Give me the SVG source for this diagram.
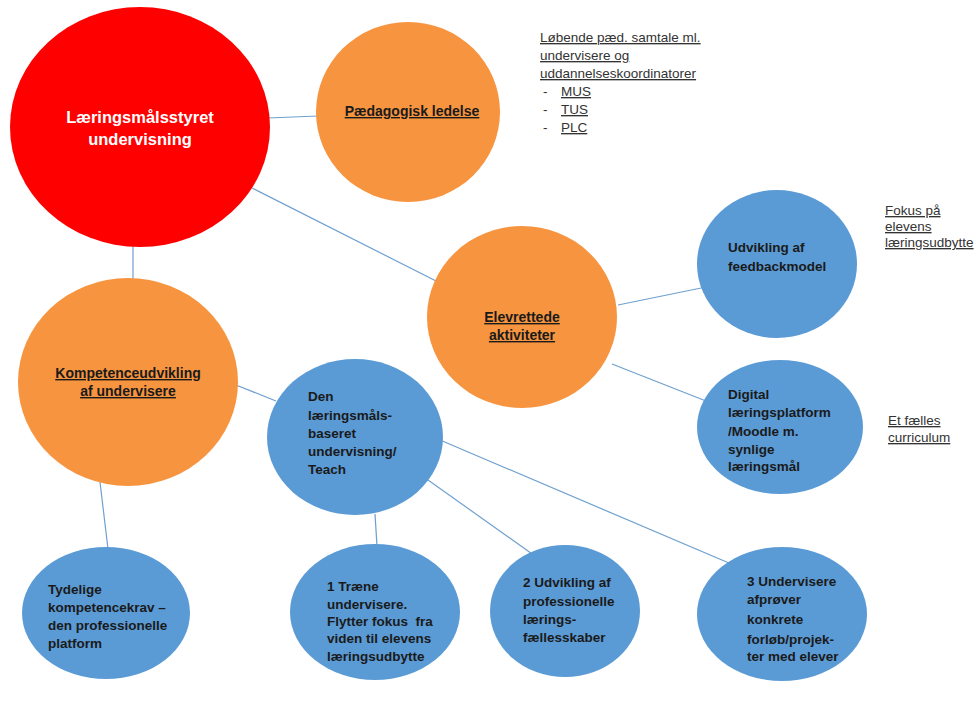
<svg xmlns="http://www.w3.org/2000/svg" width="978" height="702" viewBox="0 0 978 702">
<style>
.blue{fill:#5b9bd5}
.org{fill:#f7943f}
.t{font-family:"Liberation Sans",Arial,sans-serif;font-weight:bold;font-size:13.5px;fill:#1a1a1a;white-space:pre}
.o{font-size:14px}
.c{text-anchor:middle}
.u{text-decoration:underline}
.n{font-family:"Liberation Sans",Arial,sans-serif;font-size:13.5px;fill:#333}
.w{font-family:"Liberation Sans",Arial,sans-serif;font-weight:bold;font-size:16.5px;fill:#fff;text-anchor:middle}
.lines line{stroke:#6fa0cf;stroke-width:1.2}
</style>
<rect width="978" height="702" fill="#fff"/>
<g class="lines" id="connectors">
<line x1="268" y1="118" x2="318" y2="116"/>
<line x1="133" y1="246" x2="133" y2="280"/>
<line x1="252" y1="188" x2="442" y2="284"/>
<line x1="618" y1="305" x2="706" y2="287"/>
<line x1="612" y1="364" x2="706" y2="401"/>
<line x1="236" y1="385" x2="276" y2="401"/>
<line x1="100" y1="482" x2="108" y2="549"/>
<line x1="375" y1="514" x2="377" y2="546"/>
<line x1="428" y1="480" x2="535" y2="556"/>
<line x1="440" y1="440" x2="736" y2="566"/>
</g>
<g id="n-root"><ellipse cx="140" cy="127" rx="130" ry="120" fill="#ff0000"/>
<text class="w" x="140" y="123">Læringsmålsstyret</text><text class="w" x="140" y="145">undervisning</text></g>
<g id="n-paed"><ellipse class="org" cx="408" cy="112" rx="92" ry="90"/>
<text class="t o c u" x="412" y="116">Pædagogisk ledelse</text></g>
<g id="n-elev"><ellipse class="org" cx="522" cy="317" rx="95" ry="91"/>
<text class="t o c u" x="522" y="322">Elevrettede</text><text class="t o c u" x="522" y="340">aktiviteter</text></g>
<g id="n-komp"><ellipse class="org" cx="128" cy="382" rx="110" ry="104"/>
<text class="t o c u" x="128" y="378">Kompetenceudvikling</text><text class="t o c u" x="128" y="396">af undervisere</text></g>
<g id="n-den"><ellipse class="blue" cx="355" cy="437" rx="88" ry="78"/>
<text class="t"><tspan x="308" y="401">Den</tspan><tspan x="308" y="420">læringsmåls-</tspan><tspan x="308" y="438">baseret</tspan><tspan x="308" y="456">undervisning/</tspan><tspan x="308" y="474">Teach</tspan></text></g>
<g id="n-feed"><ellipse class="blue" cx="777" cy="264" rx="80" ry="74"/>
<text class="t"><tspan x="728" y="252">Udvikling af</tspan><tspan x="728" y="271">feedbackmodel</tspan></text></g>
<g id="n-digi"><ellipse class="blue" cx="780" cy="427" rx="83" ry="67"/>
<text class="t"><tspan x="728" y="399">Digital</tspan><tspan x="728" y="417">læringsplatform</tspan><tspan x="728" y="436">/Moodle m.</tspan><tspan x="728" y="454">synlige</tspan><tspan x="728" y="471">læringsmål</tspan></text></g>
<g id="n-tyd"><ellipse class="blue" cx="106" cy="613" rx="84" ry="66"/>
<text class="t"><tspan x="48" y="594">Tydelige</tspan><tspan x="48" y="612">kompetencekrav –</tspan><tspan x="48" y="630">den professionelle</tspan><tspan x="48" y="648">platform</tspan></text></g>
<g id="n-1"><ellipse class="blue" cx="375" cy="612" rx="85" ry="68"/>
<text class="t"><tspan x="327" y="591">1 Træne</tspan><tspan x="327" y="609">undervisere.</tspan><tspan x="327" y="626">Flytter fokus  fra</tspan><tspan x="327" y="643">viden til elevens</tspan><tspan x="327" y="661">læringsudbytte</tspan></text></g>
<g id="n-2"><ellipse class="blue" cx="565" cy="611" rx="75" ry="66"/>
<text class="t"><tspan x="523" y="587">2 Udvikling af</tspan><tspan x="523" y="606">professionelle</tspan><tspan x="523" y="624">lærings-</tspan><tspan x="523" y="642">fællesskaber</tspan></text></g>
<g id="n-3"><ellipse class="blue" cx="782" cy="614" rx="85" ry="67"/>
<text class="t"><tspan x="747" y="586">3 Undervisere</tspan><tspan x="747" y="604">afprøver</tspan><tspan x="747" y="624">konkrete</tspan><tspan x="747" y="644">forløb/projek-</tspan><tspan x="747" y="661">ter med elever</tspan></text></g>
<g id="notes-paed">
<text class="n u" x="540" y="42">Løbende pæd. samtale ml.</text>
<text class="n u" x="540" y="60">undervisere og</text>
<text class="n u" x="540" y="78">uddannelseskoordinatorer</text>
<text class="n" x="543" y="96">-</text><text class="n u" x="561" y="96">MUS</text>
<text class="n" x="543" y="114">-</text><text class="n u" x="561" y="114">TUS</text>
<text class="n" x="543" y="132">-</text><text class="n u" x="561" y="132">PLC</text>
</g>
<g id="notes-fokus">
<text class="n u" x="885" y="215">Fokus på</text>
<text class="n u" x="885" y="231">elevens</text>
<text class="n u" x="885" y="247">læringsudbytte</text>
</g>
<g id="notes-curr">
<text class="n u" x="888" y="425">Et fælles</text>
<text class="n u" x="888" y="442">curriculum</text>
</g>
</svg>
